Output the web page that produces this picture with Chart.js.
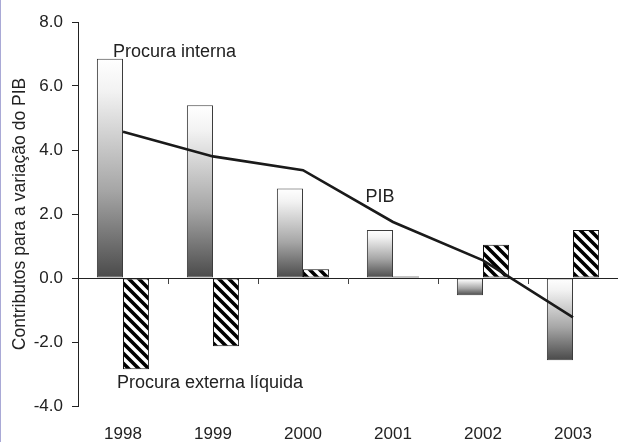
<!DOCTYPE html>
<html>
<head>
<meta charset="utf-8">
<script src="https://cdn.jsdelivr.net/npm/chart.js@4/dist/chart.umd.min.js"></script>
<style>
  body { margin: 0; background: #fff; }
  #wrap { position: relative; width: 618px; height: 442px; }
  #edge { position: absolute; left: 0; top: 0; width: 1px; height: 442px; background: #a9a9d6; }
</style>
</head>
<body>
<div id="wrap">
  <canvas id="chart" width="618" height="442"></canvas>
  <div id="edge"></div>
</div>
<script>
var anos = ["1998", "1999", "2000", "2001", "2002", "2003"];
var procuraInterna = [6.85, 5.4, 2.8, 1.5, -0.54, -2.57];
var procuraExterna = [-2.85, -2.13, 0.27, 0.05, 1.04, 1.5];
var pib = [4.57, 3.8, 3.37, 1.75, 0.55, -1.23];
var yTicks = [-4, -2, 0, 2, 4, 6, 8];

var textColor = "#222";

// gradiente claro em cima, escuro em baixo
function gradFill(context) {
  var chart = context.chart;
  var y = chart.scales.y;
  if (!y || context.type !== "data") return "#999";
  var v = context.raw;
  var top = y.getPixelForValue(Math.max(v, 0));
  var bot = y.getPixelForValue(Math.min(v, 0));
  if (!isFinite(top) || !isFinite(bot)) return "#999";
  if (bot - top < 1) bot = top + 1;
  var g = chart.ctx.createLinearGradient(0, top, 0, bot);
  g.addColorStop(0, "#ffffff");
  g.addColorStop(0.15, "#f2f2f2");
  g.addColorStop(0.6, "#a6a6a6");
  g.addColorStop(1, "#4a4a4a");
  return g;
}

// padrao tracejado diagonal
function makeHatch() {
  var c = document.createElement("canvas");
  c.width = 10;
  c.height = 10;
  var x = c.getContext("2d");
  x.fillStyle = "#fff";
  x.fillRect(0, 0, 10, 10);
  x.strokeStyle = "#000";
  x.lineWidth = 3.6;
  x.beginPath();
  for (var k = -10; k <= 10; k += 10) {
    x.moveTo(k - 2, -2);
    x.lineTo(k + 12, 12);
  }
  x.stroke();
  return x.createPattern(c, "repeat");
}
var hatch = makeHatch();

var notas = {
  id: "notas",
  afterDatasetsDraw: function (chart) {
    var ctx = chart.ctx;
    var xs = chart.scales.x;
    var ys = chart.scales.y;
    ctx.save();
    ctx.fillStyle = textColor;
    ctx.font = "18px 'Liberation Sans', Arial, sans-serif";
    ctx.textBaseline = "alphabetic";
    ctx.textAlign = "left";
    ctx.fillText("Procura interna", xs.getPixelForValue(0) - 10, ys.getPixelForValue(6.92));
    ctx.fillText("Procura externa líquida", xs.getPixelForValue(0) - 6, ys.getPixelForValue(-3.45));
    ctx.textAlign = "center";
    ctx.fillText("PIB", xs.getPixelForValue(3) - 13, ys.getPixelForValue(2.38));
    ctx.restore();
  }
};

new Chart(document.getElementById("chart"), {
  type: "bar",
  data: {
    labels: anos,
    datasets: [
      {
        label: "PIB",
        type: "line",
        data: pib,
        borderColor: "#1a1a1a",
        borderWidth: 2.6,
        pointRadius: 0,
        tension: 0,
        fill: false,
        order: 0
      },
      {
        label: "Procura interna",
        data: procuraInterna,
        backgroundColor: gradFill,
        borderColor: "#3c3c3c",
        borderWidth: 1,
        borderSkipped: false,
        order: 1
      },
      {
        label: "Procura externa líquida",
        data: procuraExterna,
        backgroundColor: hatch,
        borderColor: "#111",
        borderWidth: 1,
        borderSkipped: false,
        order: 1
      }
    ]
  },
  options: {
    responsive: false,
    animation: false,
    layout: { padding: { left: 6, top: 22, right: 0, bottom: 0 } },
    datasets: { bar: { categoryPercentage: 0.58, barPercentage: 1 } },
    plugins: { legend: { display: false }, tooltip: { enabled: false } },
    scales: {
      x: {
        type: "category",
        position: { y: 0 },
        offset: true,
        ticks: { display: false },
        grid: { offset: true, drawOnChartArea: false, drawTicks: true, tickLength: 5, color: "#444" },
        border: { display: true, color: "#222", width: 1 }
      },
      x2: {
        type: "category",
        position: "bottom",
        offset: true,
        grid: { display: false, drawTicks: false },
        border: { display: false },
        ticks: {
          color: textColor,
          padding: 18,
          font: { family: "'Liberation Sans', Arial, sans-serif", size: 17 }
        },
        afterFit: function (s) { s.height = 36; }
      },
      y: {
        min: -4,
        max: 8,
        afterBuildTicks: function (s) {
          s.ticks = yTicks.map(function (v) { return { value: v }; });
        },
        ticks: {
          color: textColor,
          padding: 9,
          font: { family: "'Liberation Sans', Arial, sans-serif", size: 17 },
          callback: function (v) { return Number(v).toFixed(1); }
        },
        grid: { drawOnChartArea: false, drawTicks: true, tickLength: 6, color: "#222" },
        border: { display: true, color: "#222", width: 1 },
        title: {
          display: true,
          text: "Contributos para a variação do PIB",
          color: textColor,
          padding: { top: 4, bottom: 3 },
          font: { family: "'Liberation Sans', Arial, sans-serif", size: 17.5 }
        },
        afterFit: function (s) { s.width = 72; }
      }
    }
  },
  plugins: [notas]
});
</script>
</body>
</html>
